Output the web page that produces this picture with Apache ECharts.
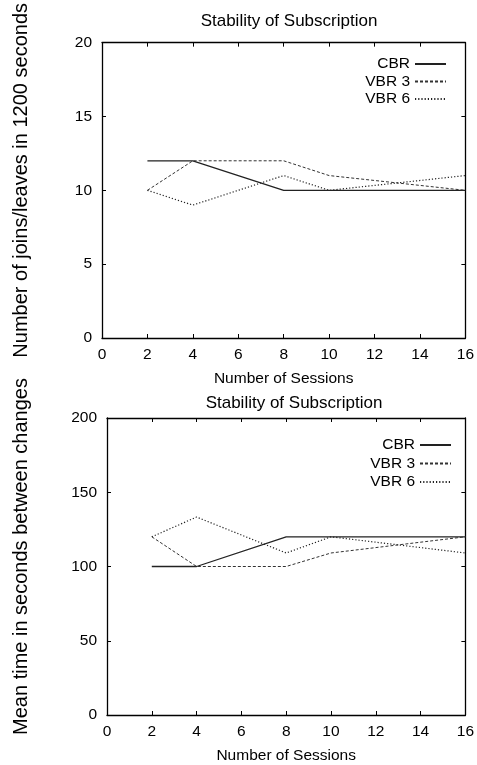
<!DOCTYPE html>
<html lang="en">
<head>
	<meta charset="UTF-8">
	<title>Stability of Subscription</title>
	<script src="https://cdn.jsdelivr.net/npm/echarts@6/dist/echarts.min.js"></script>
	<style>
		html,body{margin:0;padding:0;background:#fff;}
		#chart{width:477px;height:765px;}
	</style>
</head>
<body>
	<div id="chart"></div>
	<script type="text/javascript">
		// number of sessions (x values)
		var sessions = [2, 4, 8, 10, 16];
		var seriesNames = ['CBR', 'VBR 3', 'VBR 6'];

		// top plot: joins/leaves in 1200 seconds
		var joinsCBR = [12, 12, 10, 10, 10];
		var joinsVBR3 = [10, 12, 12, 11, 10];
		var joinsVBR6 = [10, 9, 11, 10, 11];

		// bottom plot: mean time between changes
		var meanCBR = [100, 100, 120, 120, 120];
		var meanVBR3 = [120, 100, 100, 109.1, 120];
		var meanVBR6 = [120, 133.3, 109.1, 120, 109.1];

		var topTicks = {min: 0, max: 20, interval: 5};
		var bottomTicks = {min: 0, max: 200, interval: 50};

		var font = 'Liberation Sans, Arial, sans-serif';
		var lineTypes = ['solid', [3, 2], [1.2, 2]];
		var lineWidths = [1.3, 1, 1.2];
		var lineColors = ['#222', '#333', '#222'];

		function pairs(ys) {
			var out = [];
			for (var i = 0; i < sessions.length; i++) {
				out.push([sessions[i], ys[i]]);
			}
			return out;
		}

		function xAxes(grid, withLabels) {
			return {
				gridIndex: grid,
				type: 'value',
				position: withLabels ? 'bottom' : 'top',
				min: 0, max: 16, interval: 2,
				name: withLabels ? 'Number of Sessions' : '',
				nameLocation: 'middle',
				nameGap: 33,
				nameTextStyle: {fontFamily: font, fontSize: 15.5, color: '#000'},
				axisLine: {show: true, onZero: false, lineStyle: {color: '#000', width: 1.3}},
				axisTick: {show: true, inside: true, length: 4, lineStyle: {color: '#000'}},
				axisLabel: {show: withLabels, margin: 9, fontFamily: font, fontSize: 15.5, color: '#000', showMaxLabel: true, showMinLabel: true},
				splitLine: {show: false}
			};
		}

		function yAxes(grid, ticks, title, withLabels, gap) {
			return {
				gridIndex: grid,
				type: 'value',
				position: withLabels ? 'left' : 'right',
				min: ticks.min, max: ticks.max, interval: ticks.interval,
				name: withLabels ? title : '',
				nameLocation: 'middle',
				nameGap: gap,
				nameTextStyle: {fontFamily: font, fontSize: 20, color: '#000', padding: [0, 0, 0, 20]},
				axisLine: {show: true, onZero: false, lineStyle: {color: '#000', width: 1.3}},
				axisTick: {show: true, inside: true, length: 4, lineStyle: {color: '#000'}},
				axisLabel: {show: withLabels, margin: 10, fontFamily: font, fontSize: 15.5, color: '#000'},
				splitLine: {show: false}
			};
		}

		function makeSeries(ys, idx, axisIdx) {
			return {
				name: seriesNames[idx],
				type: 'line',
				xAxisIndex: axisIdx,
				yAxisIndex: axisIdx,
				data: pairs(ys),
				symbol: 'none',
				silent: true,
				itemStyle: {color: lineColors[idx]},
				lineStyle: {color: lineColors[idx], width: lineWidths[idx], type: lineTypes[idx]}
			};
		}

		function legendAt(top, right, gap) {
			return {
				orient: 'vertical',
				align: 'right',
				top: top,
				right: right,
				itemWidth: 31,
				itemHeight: 14,
				itemGap: gap,
				data: seriesNames,
				itemStyle: {opacity: 0},
				textStyle: {fontFamily: font, fontSize: 15.5, color: '#000'},
				selectedMode: false
			};
		}

		var myChart = echarts.init(document.getElementById('chart'));
		var option = {
			animation: false,
			backgroundColor: '#fff',
			title: [
				{text: 'Stability of Subscription', left: 284, top: 8, textAlign: 'center',
					textStyle: {fontFamily: font, fontSize: 17, fontWeight: 'normal', color: '#000'}},
				{text: 'Stability of Subscription', left: 289, top: 390, textAlign: 'center',
					textStyle: {fontFamily: font, fontSize: 17, fontWeight: 'normal', color: '#000'}}
			],
			legend: [legendAt(51, 25, 1.5), legendAt(432, 20, 2.5)],
			grid: [
				{left: 102, right: 10, top: 37, height: 301},
				{left: 107, right: 6, top: 418, height: 302}
			],
			xAxis: [xAxes(0, true), xAxes(0, false), xAxes(1, true), xAxes(1, false)],
			yAxis: [
				yAxes(0, topTicks, 'Number of joins/leaves in 1200 seconds', true, 71),
				yAxes(0, topTicks, '', false, 0),
				yAxes(1, bottomTicks, 'Mean time in seconds between changes', true, 76),
				yAxes(1, bottomTicks, '', false, 0)
			],
			series: [
				makeSeries(joinsCBR, 0, 0),
				makeSeries(joinsVBR3, 1, 0),
				makeSeries(joinsVBR6, 2, 0),
				makeSeries(meanCBR, 0, 2),
				makeSeries(meanVBR3, 1, 2),
				makeSeries(meanVBR6, 2, 2)
			]
		};
		myChart.setOption(option);
	</script>
</body>
</html>
